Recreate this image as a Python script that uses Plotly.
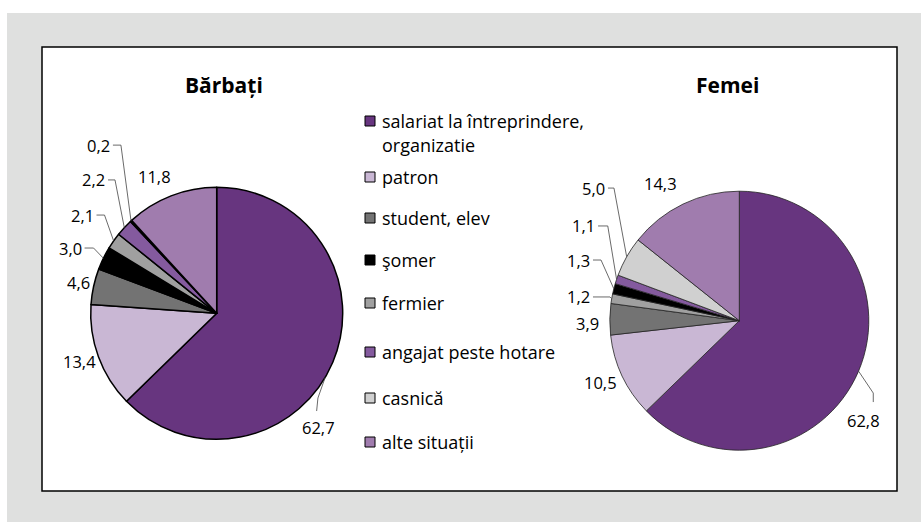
import math
import plotly.graph_objects as go

# ---------------- data ----------------
categories = [
    "salariat la întreprindere,<br>organizatie",
    "patron",
    "student, elev",
    "şomer",
    "fermier",
    "angajat peste hotare",
    "casnică",
    "alte situații",
]
colors = ["#67357f", "#c9b7d4", "#737373", "#000000", "#a0a0a0", "#845a9e", "#d0d0d0", "#a07cae"]

men_values = [62.7, 13.4, 4.6, 3.0, 2.1, 2.2, 0.2, 11.8]
women_values = [62.8, 10.5, 3.9, 1.3, 1.2, 1.1, 5.0, 14.3]

# order in which the slices run clockwise from 12 o'clock
men_order = [0, 1, 2, 3, 4, 5, 6, 7]
women_order = [0, 1, 2, 4, 3, 5, 6, 7]

pie_titles = ["Bărbați", "Femei"]

# ---------------- layout helpers ----------------
W, H = 921, 522
FONT = "Open Sans"


def px(x):
    return x / W


def py(y):
    return 1 - y / H


def fmt(v):
    return f"{v:.1f}".replace(".", ",")


# label placement (style): offsets relative to the slice attach point, in px
# (dx, dy, xanchor, yanchor, leader, attach fraction)
men_labels = {
    0: (-7, 36.7, "center", "top", [(-8.6, 33.7), (-7.3, 20.7), (0, 0)], 0.534),
    1: (-18.5, 4.9, "center", "middle", None, 0.5),
    2: (-15.3, -3.7, "center", "middle", None, 0.5),
    3: (-19.8, -10.2, "right", "middle", "h9", 0.5),
    4: (-18.1, -25.8, "right", "middle", "h8", 0.5),
    5: (-17.3, -47.7, "right", "middle", "h7", 0.5),
    6: (-19.1, -75.8, "right", "middle", "h8", 0.5),
    7: (-16.9, -19.2, "center", "middle", None, 0.5),
}
women_labels = {
    0: (5.4, 35.9, "center", "top", [(14.7, 30.9), (14.7, 21.9), (0, 0)], 0.5),
    1: (-21.7, 7, "center", "middle", None, 0.5),
    2: (-22.3, 4, "center", "middle", None, 0.5),
    4: (-19.7, -1.7, "right", "middle", "h17", 0.5),
    3: (-21.8, -28.7, "right", "middle", "h8", 0.5),
    5: (-19.5, -53.4, "right", "middle", "h9.7", 0.5),
    6: (-19.7, -68.7, "right", "middle", "h6", 0.5),
    7: (-23.1, -20.7, "center", "middle", None, 0.5),
}

pies = [
    dict(values=men_values, order=men_order, cx=216.7, cy=313.3, r=126,
         lw=1.5, lc="#000000", labels=men_labels, title=pie_titles[0], tx=224, ty=85),
    dict(values=women_values, order=women_order, cx=739.3, cy=320.7, r=129.5,
         lw=0.8, lc="#222222", labels=women_labels, title=pie_titles[1], tx=727, ty=85),
]

fig = go.Figure()
shapes = []
annotations = []

# background panels
shapes.append(dict(type="rect", xref="paper", yref="paper", x0=px(7), x1=px(921), y0=py(522), y1=py(13),
                   fillcolor="#dfe0df", line=dict(width=0), layer="below"))
shapes.append(dict(type="rect", xref="paper", yref="paper", x0=px(42), x1=px(897), y0=py(491), y1=py(47),
                   fillcolor="#ffffff", line=dict(color="#000000", width=1.5), layer="below"))

for p in pies:
    vals = [p["values"][i] for i in p["order"]]
    cols = [colors[i] for i in p["order"]]
    labs = [categories[i].replace("<br>", " ") for i in p["order"]]
    cx, cy, r = p["cx"], p["cy"], p["r"]
    fig.add_trace(go.Pie(
        values=vals, labels=labs, sort=False, direction="clockwise", rotation=0,
        marker=dict(colors=cols, line=dict(color=p["lc"], width=p["lw"])),
        textinfo="none", hoverinfo="label+value", showlegend=False,
        domain=dict(x=[px(cx - r), px(cx + r)], y=[py(cy + r), py(cy - r)]),
    ))
    total = sum(vals)
    cum = 0.0
    for k, cat in enumerate(p["order"]):
        v = vals[k]
        dx, dy, xa, ya, leader, frac = p["labels"][cat]
        ang = 2 * math.pi * (cum + frac * v) / total
        ax = cx + r * math.sin(ang)
        ay = cy - r * math.cos(ang)
        lx, ly = ax + dx, ay + dy
        annotations.append(dict(x=px(lx), y=py(ly), xref="paper", yref="paper", text=fmt(v),
                                showarrow=False, xanchor=xa, yanchor=ya,
                                font=dict(family=FONT, size=16.5, color="#000000")))
        pts = None
        if isinstance(leader, str):
            e = float(leader[1:])
            pts = [(lx + 1, ly), (lx + 1 + e, ly), (ax, ay)]
        elif leader is not None:
            pts = [(ax + a, ay + b) for a, b in leader]
        if pts:
            path = "M " + " L ".join(f"{px(x):.5f},{py(y):.5f}" for x, y in pts)
            shapes.append(dict(type="path", xref="paper", yref="paper", path=path,
                               line=dict(color="#444444", width=0.8), layer="above"))
        cum += v
    annotations.append(dict(x=px(p["tx"]), y=py(p["ty"]), xref="paper", yref="paper",
                            text=f"<b>{p['title']}</b>", showarrow=False, xanchor="center",
                            yanchor="middle", font=dict(family=FONT, size=21, color="#000000")))

# legend (custom, Excel-like spacing)
legend_rows = [121, 177, 218, 260, 303, 352, 398, 442]
line_gap = 24
for i, cat in enumerate(categories):
    y = legend_rows[i]
    shapes.append(dict(type="rect", xref="paper", yref="paper", x0=px(365), x1=px(375),
                       y0=py(y + 5), y1=py(y - 5), fillcolor=colors[i],
                       line=dict(color="#000000", width=1), layer="above"))
    for j, part in enumerate(cat.split("<br>")):
        annotations.append(dict(x=px(380), y=py(y + j * line_gap), xref="paper", yref="paper",
                                text=part, showarrow=False, xanchor="left", yanchor="middle",
                                font=dict(family=FONT, size=18, color="#000000")))

fig.update_layout(
    width=W, height=H, margin=dict(l=0, r=0, t=0, b=0),
    paper_bgcolor="#ffffff", plot_bgcolor="#ffffff",
    shapes=shapes, annotations=annotations,
)
fig.write_html("out.html", config={"displayModeBar": False},
               post_script="document.body.style.margin='0';")
